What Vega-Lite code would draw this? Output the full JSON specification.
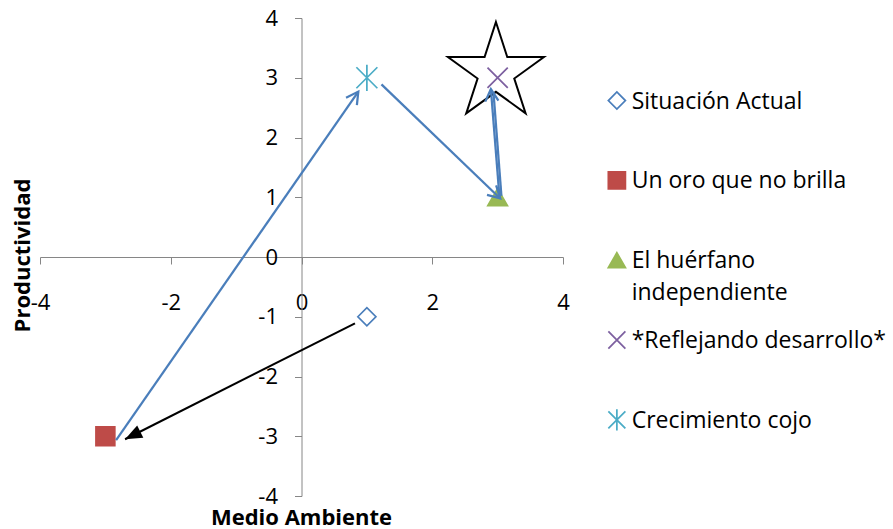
{
  "$schema": "https://vega.github.io/schema/vega-lite/v6.json",
  "width": 523,
  "height": 478,
  "autosize": {"type": "none"},
  "padding": {"left": 40, "top": 18, "right": 330, "bottom": 33},
  "background": "white",
  "config": {"view": {"stroke": null}, "font": "Open Sans", "axis": {"grid": false}},
  "datasets": {
    "puntos": [
      {"serie": "Situación Actual", "etiqueta": "Situación Actual", "x": 1, "y": -1},
      {"serie": "Un oro que no brilla", "etiqueta": "Un oro que no brilla", "x": -3, "y": -3},
      {"serie": "El huérfano independiente", "etiqueta": "El huérfano\nindependiente", "x": 3, "y": 1},
      {"serie": "*Reflejando desarrollo*", "etiqueta": "*Reflejando desarrollo*", "x": 3, "y": 3},
      {"serie": "Crecimiento cojo", "etiqueta": "Crecimiento cojo", "x": 1, "y": 3}
    ],
    "flechas": [
      {"flecha": "1", "x": 0.818, "y": -1.11, "x2": -2.699, "y2": -3.05},
      {"flecha": "2", "x": -2.836, "y": -3.065, "x2": 0.869, "y2": 2.769},
      {"flecha": "3", "x": 1.223, "y": 2.889, "x2": 3.04, "y2": 0.98},
      {"flecha": "4", "x": 3.028, "y": 1.005, "x2": 2.897, "y2": 2.809},
      {"flecha": "5", "x": 3.058, "y": 1.022, "x2": 2.936, "y2": 2.764}
    ],
    "estrella": [{"nombre": "Estrella", "x": 2.974, "y": 3.087}]
  },
  "layer": [
    {
      "encoding": {
        "x": {
          "field": "x", "type": "quantitative",
          "scale": {"domain": [-4, 4], "nice": false, "zero": false},
          "axis": {
            "title": "Medio Ambiente", "titleFont": "Open Sans", "titleFontSize": 22, "titleFontWeight": "bold",
            "titleColor": "black", "titleBaseline": "alphabetic", "titleX": 261, "titleY": 267,
            "offset": -239, "values": [-4, -2, 0, 2, 4], "labelExpr": "'' + datum.value",
            "labelFont": "Open Sans", "labelFontSize": 22, "labelColor": "black", "labelPadding": 28,
            "labelFlush": false, "labelOverlap": false, "tickSize": 7, "tickColor": "#868686",
            "domainColor": "#868686", "grid": false
          }
        },
        "y": {
          "field": "y", "type": "quantitative",
          "scale": {"domain": [-4, 4], "nice": false, "zero": false},
          "axis": {
            "title": "Productividad", "titleFont": "Open Sans", "titleFontSize": 22, "titleFontWeight": "bold",
            "titleColor": "black", "titleBaseline": "alphabetic", "titleX": -272.5, "titleY": 237,
            "offset": -261.5, "values": [-4, -3, -2, -1, 0, 1, 2, 3, 4], "labelExpr": "'' + datum.value",
            "labelFont": "Open Sans", "labelFontSize": 22, "labelColor": "black", "labelPadding": 17,
            "labelFlush": false, "labelOverlap": false, "tickSize": 7, "tickColor": "#868686",
            "domainColor": "#868686", "grid": false
          }
        }
      },
      "layer": [
        {
          "data": {"name": "estrella"},
          "mark": {"type": "point", "shape": "M0,-1L0.2245,-0.309L0.9511,-0.309L0.3633,0.118L0.5878,0.809L0,0.382L-0.5878,0.809L-0.3633,0.118L-0.9511,-0.309L-0.2245,-0.309Z", "size": 10201, "filled": false, "stroke": "black", "strokeWidth": 2, "opacity": 1}
        },
        {
          "data": {"name": "puntos"},
          "mark": {"type": "point", "strokeWidth": 1.75, "opacity": 1},
          "encoding": {
            "fill": {"field": "serie", "type": "nominal", "legend": null,
              "scale": {"domain": ["Situación Actual", "Un oro que no brilla", "El huérfano independiente", "*Reflejando desarrollo*", "Crecimiento cojo"],
                "range": ["transparent", "#BE4B48", "#98B954", "transparent", "transparent"]}},
            "stroke": {"field": "serie", "type": "nominal", "legend": null,
              "scale": {"domain": ["Situación Actual", "Un oro que no brilla", "El huérfano independiente", "*Reflejando desarrollo*", "Crecimiento cojo"],
                "range": ["#4A7EBB", "#BE4B48", "#98B954", "#7D60A0", "#4BACC6"]}},
            "shape": {"field": "serie", "type": "nominal", "legend": null,
              "scale": {"domain": ["Situación Actual", "Un oro que no brilla", "El huérfano independiente", "*Reflejando desarrollo*", "Crecimiento cojo"],
                "range": ["diamond", "square", "triangle-up", "M-1,-1L1,1M-1,1L1,-1", "M0,-1.25L0,1.25M-1,-1L1,1M-1,1L1,-1"]}},
            "size": {"field": "serie", "type": "ordinal", "legend": null,
              "scale": {"domain": ["Situación Actual", "Un oro que no brilla", "El huérfano independiente", "*Reflejando desarrollo*", "Crecimiento cojo"],
                "range": [324, 441, 625, 324, 289]}}
          }
        },
        {
          "data": {"name": "flechas"},
          "transform": [{"filter": "datum.flecha == '1'"}],
          "mark": {"type": "rule", "color": "black", "strokeWidth": 2},
          "encoding": {"x2": {"field": "x2"}, "y2": {"field": "y2"}}
        },
        {
          "data": {"name": "flechas"},
          "transform": [{"filter": "datum.flecha != '1'"}],
          "mark": {"type": "rule", "color": "#4A7EBB", "strokeWidth": 2.25},
          "encoding": {"x2": {"field": "x2"}, "y2": {"field": "y2"}}
        },
        {
          "data": {"name": "flechas"},
          "transform": [{"filter": "datum.flecha == '1'"}],
          "mark": {"type": "point", "shape": "M0,0L-0.4,1L0.4,1Z", "size": 1156, "angle": 243.3, "filled": true, "color": "black", "opacity": 1},
          "encoding": {"x": {"field": "x2", "type": "quantitative"}, "y": {"field": "y2", "type": "quantitative"}}
        },
        {
          "data": {"name": "flechas"},
          "transform": [{"filter": "datum.flecha == '2'"}],
          "mark": {"type": "point", "shape": "M-0.55,1L0,0L0.55,1", "size": 576, "angle": 34.8, "filled": false, "stroke": "#4A7EBB", "strokeWidth": 2.25, "opacity": 1},
          "encoding": {"x": {"field": "x2", "type": "quantitative"}, "y": {"field": "y2", "type": "quantitative"}}
        },
        {
          "data": {"name": "flechas"},
          "transform": [{"filter": "datum.flecha == '3'"}],
          "mark": {"type": "point", "shape": "M-0.55,1L0,0L0.55,1", "size": 576, "angle": 133.8, "filled": false, "stroke": "#4A7EBB", "strokeWidth": 2.25, "opacity": 1},
          "encoding": {"x": {"field": "x2", "type": "quantitative"}, "y": {"field": "y2", "type": "quantitative"}}
        },
        {
          "data": {"name": "flechas"},
          "transform": [{"filter": "datum.flecha == '4'"}],
          "mark": {"type": "point", "shape": "M-0.55,1L0,0L0.55,1", "size": 576, "angle": 355.5, "filled": false, "stroke": "#4A7EBB", "strokeWidth": 2.25, "opacity": 1},
          "encoding": {"x": {"field": "x2", "type": "quantitative"}, "y": {"field": "y2", "type": "quantitative"}}
        }
      ]
    },
    {
      "data": {"name": "puntos"},
      "encoding": {
        "y": {"field": "serie", "type": "nominal", "axis": null,
          "sort": ["Situación Actual", "Un oro que no brilla", "El huérfano independiente", "*Reflejando desarrollo*", "Crecimiento cojo"],
          "scale": {"type": "point", "domain": ["Situación Actual", "Un oro que no brilla", "El huérfano independiente", "*Reflejando desarrollo*", "Crecimiento cojo"], "padding": 0.994, "align": 0.52}}
      },
      "layer": [
        {
          "mark": {"type": "point", "size": 290, "strokeWidth": 1.75, "opacity": 1},
          "encoding": {
            "x": {"datum": 4.824, "type": "quantitative"},
            "fill": {"field": "serie", "type": "nominal", "legend": null},
            "stroke": {"field": "serie", "type": "nominal", "legend": null},
            "shape": {"field": "serie", "type": "nominal", "legend": null}
          }
        },
        {
          "mark": {"type": "text", "align": "left", "baseline": "alphabetic", "dy": 8, "fontSize": 23, "font": "Open Sans", "lineBreak": "\n", "lineHeight": 32, "color": "black"},
          "encoding": {
            "x": {"datum": 5.05, "type": "quantitative"},
            "text": {"field": "etiqueta"}
          }
        }
      ]
    }
  ],
  "resolve": {"scale": {"y": "independent"}, "axis": {"y": "independent"}}
}
